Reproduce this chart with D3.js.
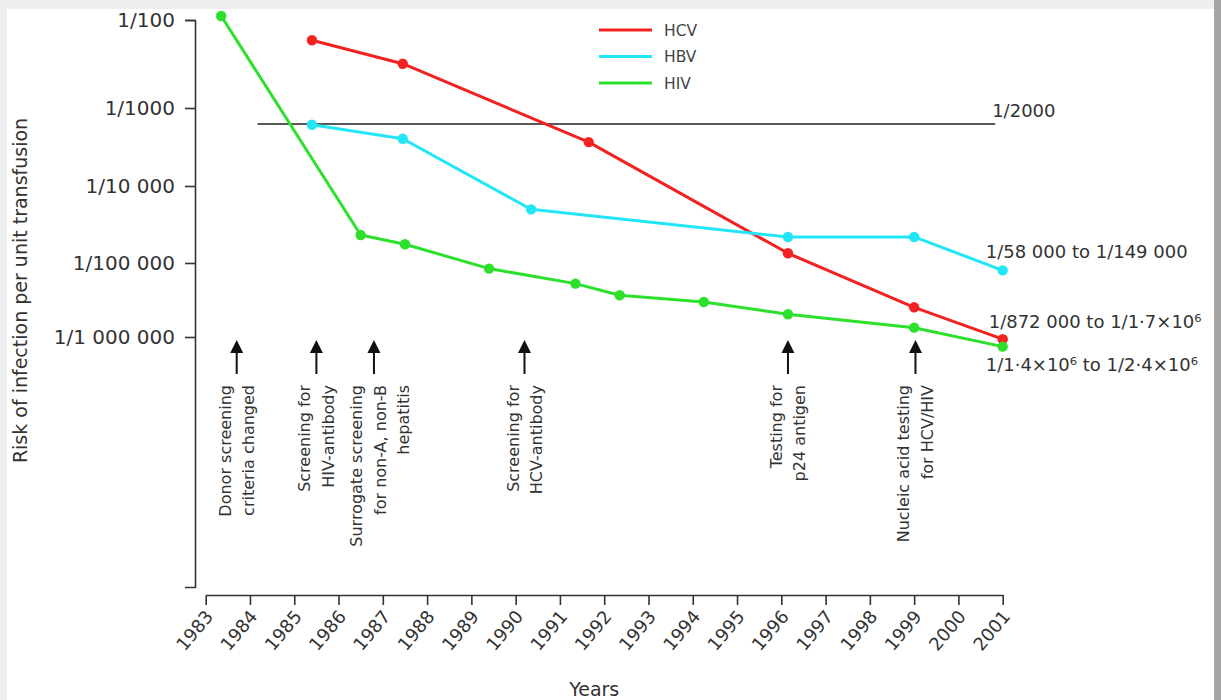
<!DOCTYPE html>
<html>
<head>
<meta charset="utf-8">
<script src="https://cdn.jsdelivr.net/npm/d3@7"></script>
<style>
  html, body { margin: 0; padding: 0; background: #efefef; }
  svg { display: block; }
</style>
</head>
<body>
<svg id="chart" width="1221" height="700"></svg>
<script>
// ---------------- DATA ----------------
const xYears = [1983,1984,1985,1986,1987,1988,1989,1990,1991,1992,1993,1994,1995,1996,1997,1998,1999,2000,2001];

const yTickValues = [1e-2, 1e-3, 1e-4, 1e-5, 1e-6];
const yTickLabels = ["1/100", "1/1000", "1/10 000", "1/100 000", "1/1 000 000"];

const seriesNames = ["HCV", "HBV", "HIV"];
const seriesColors = ["#f22222", "#22e6f6", "#2ce02c"];

const hcvYears  = [1985.4, 1987.45, 1991.65, 1996.15, 1999.0, 2001.0];
const hcvValues = [1/170, 1/314, 1/3200, 1/74800, 1/397000, 1/1070000];

const hbvYears  = [1985.4, 1987.45, 1990.35, 1996.15, 1999.0, 2001.0];
const hbvValues = [1/2040, 1/2930, 1/20100, 1/45900, 1/45900, 1/125600];

const hivYears  = [1983.35, 1986.5, 1987.5, 1989.4, 1991.35, 1992.35, 1994.25, 1996.15, 1999.0, 2001.0];
const hivValues = [1/90, 1/43300, 1/57100, 1/119000, 1/190000, 1/273000, 1/336000, 1/493000, 1/748000, 1/1350000];

const thresholdValue = 1/2000;
const thresholdLabel = "1/2000";
const thresholdYears = [1984.17, 2000.83];

const endLabels = ["1/58 000 to 1/149 000", "1/872 000 to 1/1\u00B77\u00D710\u2076", "1/1\u00B74\u00D710\u2076 to 1/2\u00B74\u00D710\u2076"];

const eventYears = [1983.7, 1985.5, 1986.8, 1990.2, 1996.15, 1999.03];
const eventLabels = [
  ["Donor screening", "criteria changed"],
  ["Screening for", "HIV-antibody"],
  ["Surrogate screening", "for non-A, non-B", "hepatitis"],
  ["Screening for", "HCV-antibody"],
  ["Testing for", "p24 antigen"],
  ["Nucleic acid testing", "for HCV/HIV"]
];

const xTitle = "Years";
const yTitle = "Risk of infection per unit transfusion";

// ---------------- DRAW ----------------
const svg = d3.select("#chart");
const NUM_FONT = "'DejaVu Sans', Verdana, sans-serif";
const TXT = "#333";

// frame
svg.append("rect").attr("x", 0).attr("y", 0).attr("width", 1221).attr("height", 700).attr("fill", "#efefef");
svg.append("rect").attr("x", 7).attr("y", 9).attr("width", 1207).attr("height", 691).attr("fill", "#fff");
svg.append("rect").attr("x", 1214).attr("y", 0).attr("width", 7).attr("height", 700).attr("fill", "#a5a5a5");

const x = d3.scaleLinear().domain([1983, 2001]).range([205.7, 1002.7]);
// piecewise log scale (the original axis is not evenly spaced per decade)
const y = d3.scaleLog()
  .domain([1e-2, 1e-3, thresholdValue, 1e-4, 1e-5, 1e-6, Math.pow(10, -9.38)])
  .range([20, 108, 124, 186, 263, 337, 587]);

// Y axis
const yAxis = d3.axisLeft(y).tickValues(yTickValues)
  .tickFormat((d, i) => yTickLabels[i]).tickSize(10).tickSizeOuter(10).tickPadding(10);
const gy = svg.append("g").attr("transform", "translate(195,0)").call(yAxis);
gy.selectAll("path, line").attr("stroke", "#333").attr("stroke-width", 1.6);
gy.selectAll("text").attr("font-family", NUM_FONT).attr("font-size", 20).attr("fill", TXT);

// X axis
const xAxis = d3.axisBottom(x).tickValues(xYears).tickFormat(d3.format("d")).tickSize(10).tickSizeOuter(0);
const gx = svg.append("g").attr("transform", "translate(0,595)").call(xAxis);
gx.selectAll("path, line").attr("stroke", "#333").attr("stroke-width", 1.6);
gx.selectAll("text")
  .attr("font-family", NUM_FONT).attr("font-size", 18).attr("fill", TXT)
  .attr("x", 0).attr("y", 0).attr("dy", 0)
  .attr("text-anchor", "end")
  .attr("transform", "translate(8,22) rotate(-50)");

// Axis titles
svg.append("text")
  .attr("transform", `translate(${(x(1983)+x(2001))/2 - 10},696)`)
  .attr("text-anchor", "middle").attr("font-family", NUM_FONT).attr("font-size", 19).attr("fill", TXT)
  .text(xTitle);

svg.append("text")
  .attr("transform", `translate(27,${(y(1e-2) + y(1e-6)) / 2 + 112}) rotate(-90)`)
  .attr("text-anchor", "middle").attr("font-family", NUM_FONT).attr("font-size", 19).attr("fill", TXT)
  .text(yTitle);

// Threshold line
svg.append("line")
  .attr("x1", x(thresholdYears[0])).attr("x2", x(thresholdYears[1]))
  .attr("y1", y(thresholdValue)).attr("y2", y(thresholdValue))
  .attr("stroke", "#222").attr("stroke-width", 1.5);
svg.append("text")
  .attr("x", x(thresholdYears[1]) - 3).attr("y", y(thresholdValue) - 7)
  .attr("font-family", NUM_FONT).attr("font-size", 18).attr("fill", TXT)
  .text(thresholdLabel);

// Series
const series = [
  { name: seriesNames[0], color: seriesColors[0], years: hcvYears, values: hcvValues },
  { name: seriesNames[1], color: seriesColors[1], years: hbvYears, values: hbvValues },
  { name: seriesNames[2], color: seriesColors[2], years: hivYears, values: hivValues }
];
const line = d3.line().x(d => x(d[0])).y(d => y(d[1]));
series.forEach(s => {
  const pts = s.years.map((yr, i) => [yr, s.values[i]]);
  svg.append("path").datum(pts).attr("d", line)
    .attr("fill", "none").attr("stroke", s.color).attr("stroke-width", 3).attr("stroke-linejoin", "round");
  svg.selectAll(null).data(pts).enter().append("circle")
    .attr("cx", d => x(d[0])).attr("cy", d => y(d[1])).attr("r", 5.2).attr("fill", s.color);
});

// End labels (HBV, HCV, HIV ranges)
const endOffsets = [-12, -11, 24];
[hbvValues, hcvValues, hivValues].forEach((vals, i) => {
  svg.append("text")
    .attr("x", x(2001) - 17 + (i === 1 ? 3 : 0))
    .attr("y", y(vals[vals.length - 1]) + endOffsets[i])
    .attr("font-family", NUM_FONT).attr("font-size", 18).attr("fill", TXT)
    .text(endLabels[i]);
});

// Legend
const lg = svg.append("g");
series.forEach((s, i) => {
  const yy = 30 + i * 26.5;
  lg.append("line").attr("x1", 599).attr("x2", 652).attr("y1", yy).attr("y2", yy)
    .attr("stroke", s.color).attr("stroke-width", 3);
  lg.append("text").attr("x", 664).attr("y", yy).attr("dy", "0.36em")
    .attr("font-family", NUM_FONT).attr("font-size", 15.5).attr("fill", "#444").text(s.name);
});

// Event arrows and rotated labels
eventYears.forEach((yr, i) => {
  const ax = x(yr);
  const g = svg.append("g");
  g.append("line").attr("x1", ax).attr("x2", ax).attr("y1", 350).attr("y2", 374)
    .attr("stroke", "#111").attr("stroke-width", 2);
  g.append("path").attr("d", `M${ax},340 L${ax - 6.5},353 L${ax + 6.5},353 Z`).attr("fill", "#111");
  const lines = eventLabels[i];
  const spacing = 23.5;
  const center = ax + (lines.length === 3 ? 6 : 0);
  lines.forEach((t, j) => {
    const lx = center + (j - (lines.length - 1) / 2) * spacing;
    g.append("text")
      .attr("transform", `translate(${lx},385) rotate(-90)`)
      .attr("dy", "0.36em")
      .attr("text-anchor", "end")
      .attr("font-family", NUM_FONT).attr("font-size", 16).attr("fill", TXT)
      .text(t);
  });
});
</script>
</body>
</html>
